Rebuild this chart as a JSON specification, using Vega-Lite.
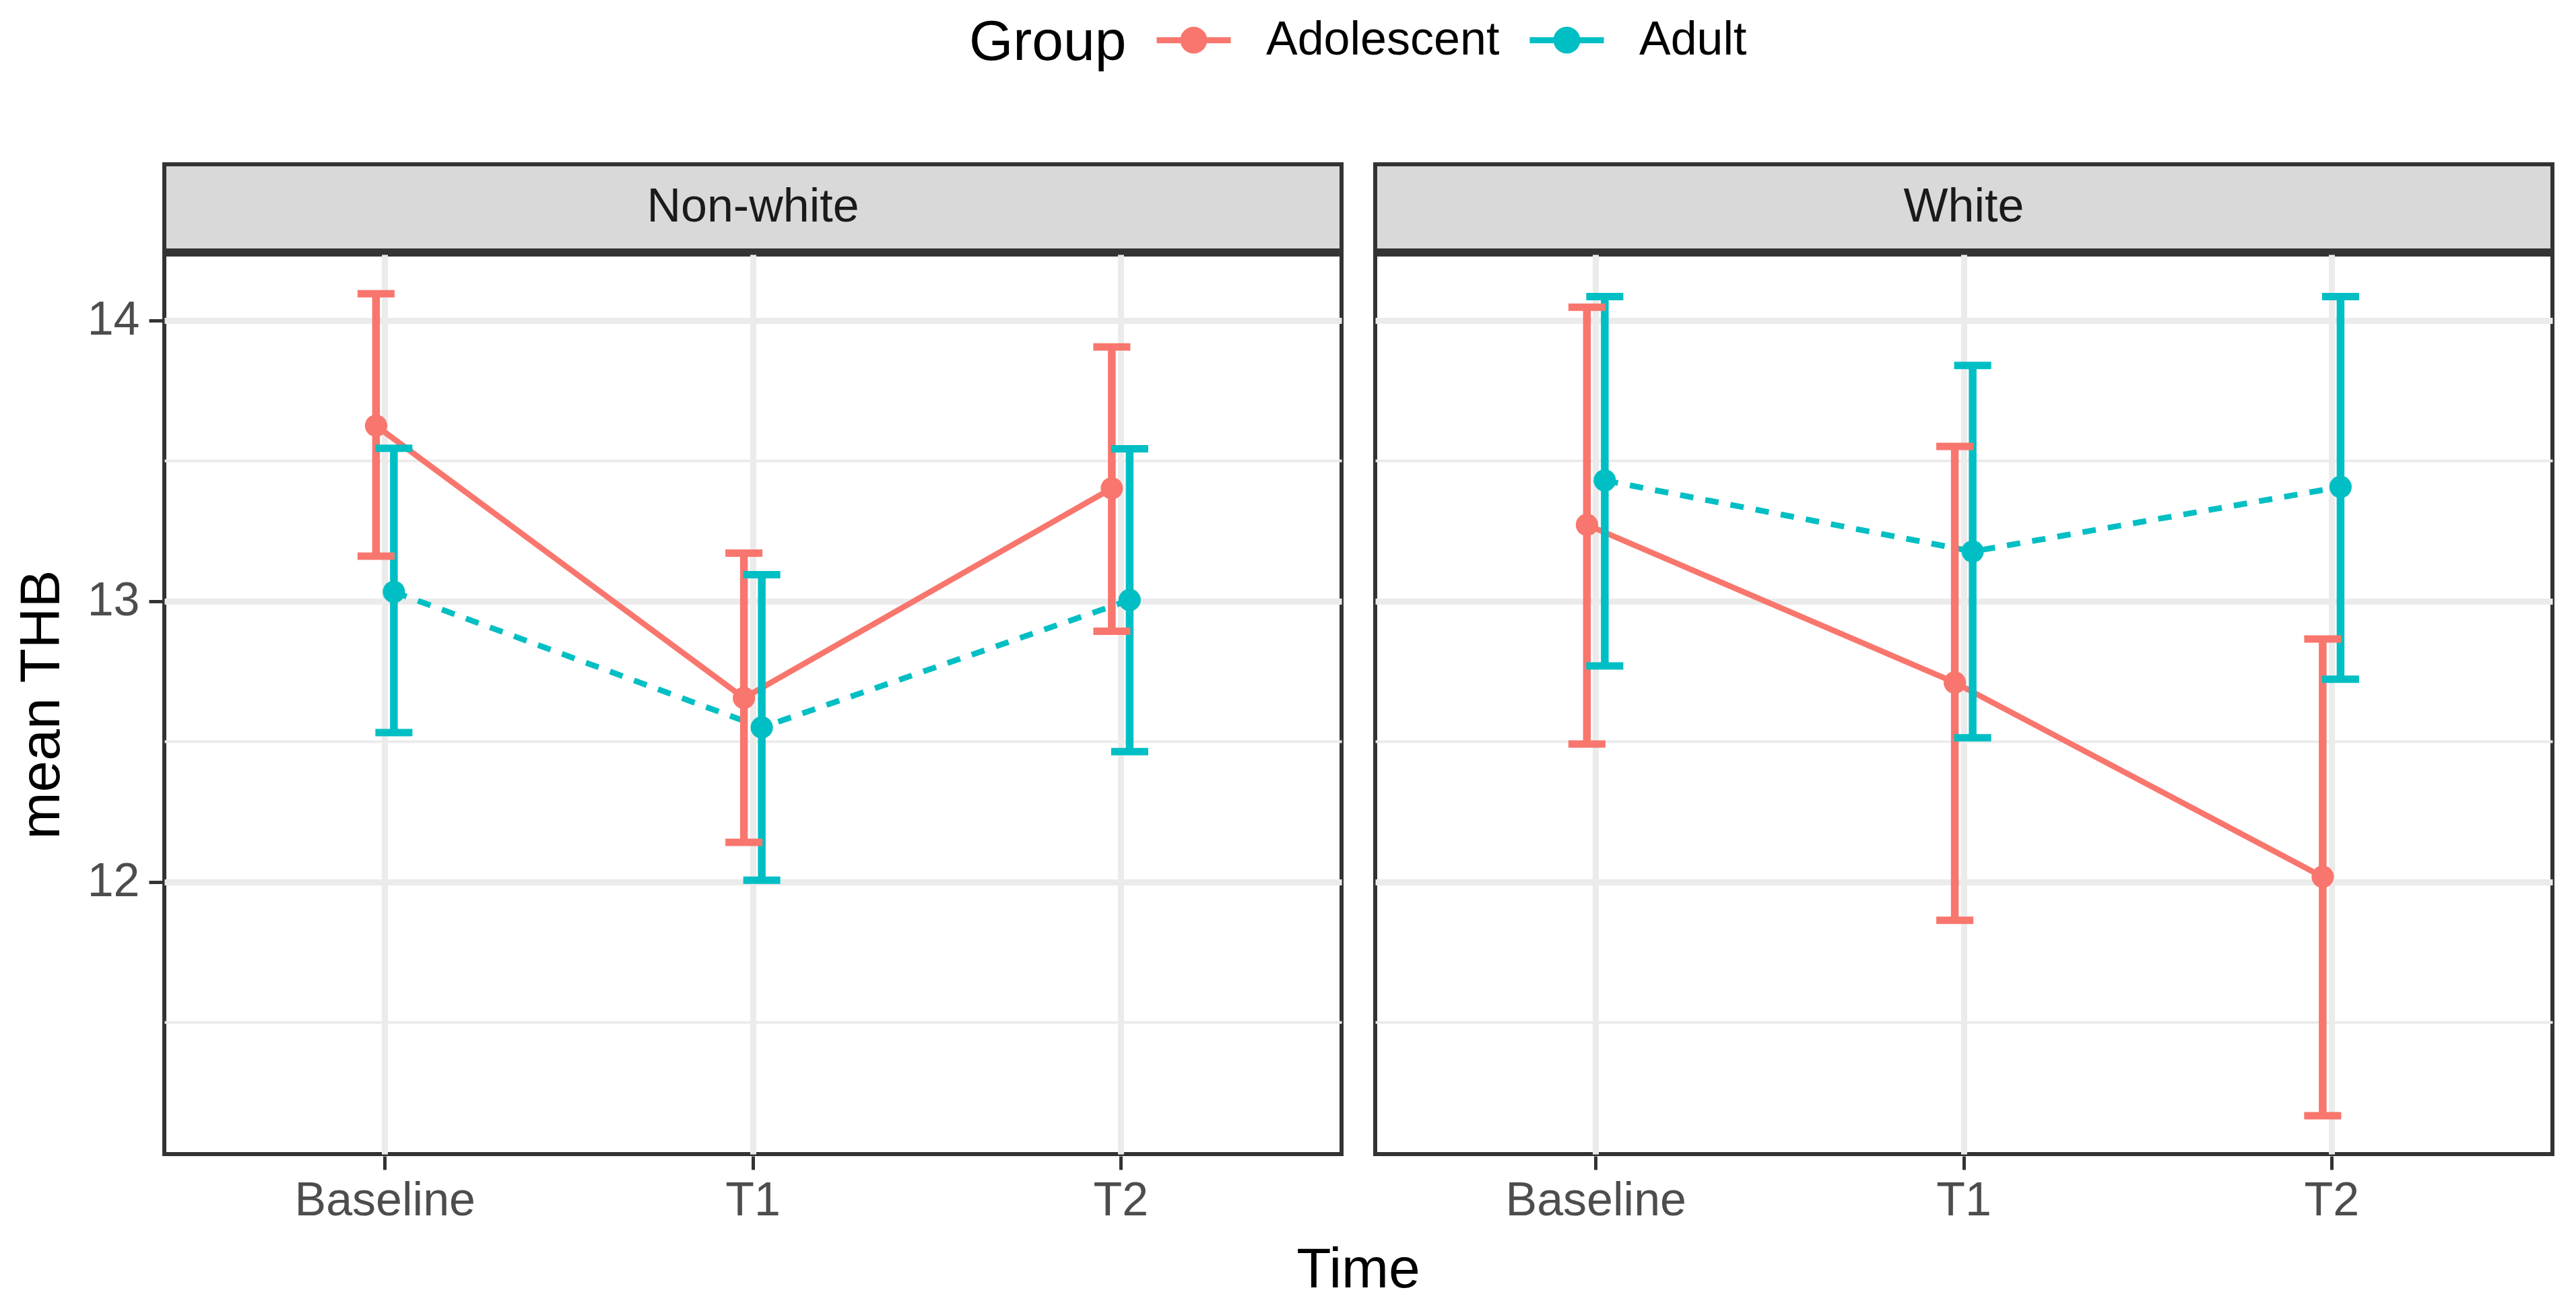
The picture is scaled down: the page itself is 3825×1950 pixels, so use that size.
{
  "$schema": "https://vega.github.io/schema/vega-lite/v6.json",
  "background": "white",
  "padding": {"left": 20, "top": 0, "right": 41, "bottom": 30},
  "spacing": 0,
  "datasets": {
    "strips": [{"Race": "Non-white"}, {"Race": "White"}],
    "thb": [
      {"Race": "Non-white", "Group": "Adolescent", "Time": "Baseline", "mean": 13.625, "lower": 13.16, "upper": 14.095},
      {"Race": "Non-white", "Group": "Adult", "Time": "Baseline", "mean": 13.033, "lower": 12.532, "upper": 13.545},
      {"Race": "Non-white", "Group": "Adolescent", "Time": "T1", "mean": 12.655, "lower": 12.141, "upper": 13.171},
      {"Race": "Non-white", "Group": "Adult", "Time": "T1", "mean": 12.55, "lower": 12.006, "upper": 13.094},
      {"Race": "Non-white", "Group": "Adolescent", "Time": "T2", "mean": 13.402, "lower": 12.893, "upper": 13.906},
      {"Race": "Non-white", "Group": "Adult", "Time": "T2", "mean": 13.004, "lower": 12.464, "upper": 13.543},
      {"Race": "White", "Group": "Adolescent", "Time": "Baseline", "mean": 13.272, "lower": 12.491, "upper": 14.047},
      {"Race": "White", "Group": "Adult", "Time": "Baseline", "mean": 13.43, "lower": 12.769, "upper": 14.085},
      {"Race": "White", "Group": "Adolescent", "Time": "T1", "mean": 12.71, "lower": 11.863, "upper": 13.551},
      {"Race": "White", "Group": "Adult", "Time": "T1", "mean": 13.177, "lower": 12.513, "upper": 13.84},
      {"Race": "White", "Group": "Adolescent", "Time": "T2", "mean": 12.018, "lower": 11.167, "upper": 12.865},
      {"Race": "White", "Group": "Adult", "Time": "T2", "mean": 13.407, "lower": 12.722, "upper": 14.085}
    ]
  },
  "config": {
    "font": "Liberation Sans",
    "view": {"stroke": "#333333", "strokeWidth": 6},
    "axis": {
      "labelFont": "Liberation Sans", "titleFont": "Liberation Sans",
      "labelFontSize": 70, "titleFontSize": 84, "labelColor": "#4D4D4D", "titleColor": "#000000",
      "titleFontWeight": "normal", "tickColor": "#333333", "tickWidth": 5, "tickSize": 20,
      "domain": false, "gridColor": "#EBEBEB", "gridWidth": 9, "labelLimit": 0
    },
    "legend": {
      "labelFont": "Liberation Sans", "titleFont": "Liberation Sans", "labelLimit": 0, "titleLimit": 0
    }
  },
  "vconcat": [
    {
      "data": {"name": "strips"},
      "facet": {"column": {"field": "Race", "type": "nominal", "header": null}},
      "spacing": 44,
      "spec": {
        "width": 1748,
        "height": 128,
        "view": {"fill": "#D9D9D9", "stroke": "#333333", "strokeWidth": 6},
        "mark": {"type": "text", "fontSize": 70, "color": "#1A1A1A", "font": "Liberation Sans", "baseline": "middle", "align": "center"},
        "encoding": {"text": {"field": "Race", "type": "nominal"}}
      }
    },
    {
      "data": {"name": "thb"},
      "facet": {
        "column": {
          "field": "Race", "type": "nominal",
          "header": {"title": "Time", "titleOrient": "bottom", "labels": false, "titleFontSize": 84, "titleFont": "Liberation Sans", "titleColor": "#000000", "titleFontWeight": "normal", "titlePadding": 18}
        }
      },
      "spacing": 44,
      "spec": {
        "width": 1748,
        "height": 1336,
        "encoding": {
          "x": {
            "field": "Time", "type": "nominal", "sort": ["Baseline", "T1", "T2"],
            "scale": {"type": "band", "paddingInner": 0, "paddingOuter": 0.1},
            "axis": {"title": null, "labelAngle": 0, "bandPosition": 0.5, "labelPadding": 12, "grid": true}
          },
          "xOffset": {"field": "Group", "type": "nominal", "scale": {"domain": ["Adolescent", "Adult"], "range": [246.5, 299.5]}},
          "color": {
            "field": "Group", "type": "nominal",
            "scale": {"domain": ["Adolescent", "Adult"], "range": ["#F8766D", "#00BFC4"]},
            "legend": {
              "title": "Group", "orient": "none", "legendX": 1195, "legendY": -244,
              "direction": "horizontal", "titleOrient": "left",
              "titleFontSize": 84, "titleFontWeight": "normal",
              "titleColor": "#000000", "labelFontSize": 70, "labelColor": "#000000", "titlePadding": 40,
              "symbolType": "M-1,0H1M0,-0.33V0.33M0.28,0A0.28,0.28 0 1 1 -0.28,0A0.28,0.28 0 1 1 0.28,0Z",
              "symbolSize": 12100, "symbolStrokeWidth": 9, "labelOffset": 48, "columnPadding": 26,
              "encode": {
                "symbols": {"update": {"fill": {"scale": "color", "field": "value"}, "stroke": {"scale": "color", "field": "value"}, "opacity": {"value": 1}}},
                "title": {"update": {"dy": {"value": 16}}}
              }
            }
          },
          "y": {
            "field": "mean", "type": "quantitative", "title": "mean THB",
            "scale": {"domain": [11.03, 14.235], "nice": false, "zero": false},
            "axis": {
              "values": [11.5, 12, 12.5, 13, 13.5, 14], "labelPadding": 14, "titlePadding": 24,
              "labelExpr": "datum.value % 1 === 0 ? '' + datum.value : ''",
              "gridWidth": {"condition": {"test": "datum.value % 1 === 0", "value": 9}, "value": 4},
              "tickOpacity": {"condition": {"test": "datum.value % 1 === 0", "value": 1}, "value": 0}
            }
          }
        },
        "layer": [
          {
            "transform": [{"filter": "datum.Group === 'Adolescent'"}],
            "mark": {"type": "line", "strokeWidth": 8.5}
          },
          {
            "transform": [{"filter": "datum.Group === 'Adult'"}],
            "mark": {"type": "line", "strokeWidth": 8.5, "strokeDash": [20, 18]}
          },
          {
            "mark": {"type": "rule", "strokeWidth": 11.5},
            "encoding": {
              "y": {"field": "lower", "type": "quantitative"},
              "y2": {"field": "upper"}
            }
          },
          {
            "mark": {"type": "tick", "thickness": 11, "size": 55, "opacity": 1},
            "encoding": {"y": {"field": "upper", "type": "quantitative"}}
          },
          {
            "mark": {"type": "tick", "thickness": 11, "size": 55, "opacity": 1},
            "encoding": {"y": {"field": "lower", "type": "quantitative"}}
          },
          {
            "mark": {"type": "point", "filled": true, "size": 1100, "opacity": 1, "strokeWidth": 0}
          }
        ]
      }
    }
  ]
}
